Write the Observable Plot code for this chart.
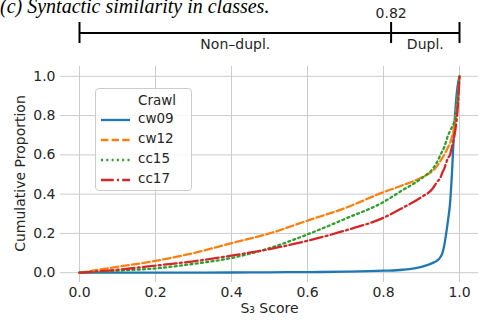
<!DOCTYPE html>
<html><head><meta charset="utf-8">
<script src="https://cdn.jsdelivr.net/npm/d3@7"></script>
<script src="https://cdn.jsdelivr.net/npm/@observablehq/plot@0.6"></script>
<style>
body{margin:0;background:#fff;}
#wrap{position:relative;width:479px;height:320px;overflow:hidden;font-family:"DejaVu Sans",sans-serif;}
#title{position:absolute;left:0;top:-4px;line-height:20px;font-family:"Liberation Serif",serif;font-style:italic;font-size:20px;white-space:nowrap;color:#000;}
#bracket,#main{position:absolute;left:0;top:0;}
#legend{position:absolute;left:95px;top:88px;width:97px;height:103px;box-sizing:border-box;border:1px solid #ccc;border-radius:4px;background:rgba(255,255,255,0.85);font-size:13.5px;color:#262626;}
#legend .t{position:absolute;left:42px;top:3px;}
#legend .row{position:absolute;left:4px;height:16px;}
#legend svg{position:absolute;left:0;top:4px;}
#legend span{position:absolute;left:38px;top:-2px;}
</style></head>
<body><div id="wrap"><div id="title">(c) Syntactic similarity in classes.</div><div id="bracket"></div><div id="main"></div><div id="legend"></div></div>
<script>
const crawls = ["cw09","cw12","cc15","cc17"];
const colors = ["#1f77b4","#ff7f0e","#2ca02c","#d62728"];
const dashes = ["none","7.4,3.2","2,3.3","12.8,3.2,2,3.2"];
const xTicks = [0,0.2,0.4,0.6,0.8,1.0];
const yTicks = [0,0.2,0.4,0.6,0.8,1.0];
const threshold = 0.82;
const bracketLabels = [{x:0.41,text:"Non\u2013dupl."},{x:0.91,text:"Dupl."}];

const sx = [0,0.1,0.2,0.3,0.4,0.5,0.6,0.7,0.8,0.85,0.9,0.93,0.94,0.95,0.955,0.96,0.965,0.97,0.975,0.98,0.985,0.99,0.995,1.0];
const cw09 = [0,0,0,0,0.001,0.002,0.003,0.005,0.01,0.015,0.03,0.05,0.06,0.08,0.1,0.14,0.2,0.27,0.35,0.5,0.7,0.85,0.95,1.0];
const cw12 = [0,0.03,0.06,0.1,0.15,0.2,0.265,0.33,0.41,0.445,0.485,0.52,0.54,0.57,0.585,0.6,0.62,0.64,0.66,0.69,0.73,0.8,0.88,1.0];
const cc15 = [0,0.01,0.022,0.045,0.075,0.125,0.195,0.275,0.36,0.42,0.48,0.53,0.56,0.6,0.62,0.64,0.67,0.7,0.72,0.74,0.76,0.8,0.87,1.0];
const cc17 = [0,0.015,0.036,0.058,0.087,0.12,0.163,0.215,0.28,0.33,0.385,0.43,0.46,0.485,0.51,0.53,0.56,0.585,0.6,0.64,0.68,0.74,0.83,1.0];
const series = [cw09,cw12,cc15,cc17];

const data = [];
crawls.forEach((c,i)=>sx.forEach((x,j)=>data.push({crawl:c,x,y:series[i][j]})));

const xScale = {domain:[-0.05,1.05]};
const font = "DejaVu Sans";
const fs = 14;

const main = Plot.plot({
  width:479,height:320,marginLeft:60,marginRight:1,marginTop:66,marginBottom:38,
  style:{fontFamily:font,fontSize:fs+"px",color:"#262626",background:"transparent"},
  x:{...xScale,label:null},
  y:{domain:[-0.05,1.05],label:null},
  marks:[
    Plot.gridX(xTicks,{stroke:"#cccccc",strokeOpacity:1,strokeWidth:1}),
    Plot.gridY(yTicks,{stroke:"#cccccc",strokeOpacity:1,strokeWidth:1}),
    Plot.axisX(xTicks,{tickSize:0,tickPadding:5,tickFormat:d3.format(".1f"),label:null,fontSize:fs}),
    Plot.axisY(yTicks,{tickSize:0,tickPadding:5,tickFormat:d3.format(".1f"),label:null,fontSize:fs}),
    ...crawls.map((c,i)=>Plot.line(data.filter(d=>d.crawl===c),{x:"x",y:"y",stroke:colors[i],strokeWidth:2.3,strokeDasharray:dashes[i],curve:"monotone-x"})),
    Plot.text(["S\u2083 Score"],{frameAnchor:"bottom",dy:30,fontSize:fs,fill:"#262626"}),
    Plot.text(["Cumulative Proportion"],{frameAnchor:"left",textAnchor:"middle",dx:-40,dy:-1,rotate:-90,fontSize:fs,fill:"#262626"})
  ]
});
document.getElementById("main").appendChild(main);

const bracket = Plot.plot({
  width:479,height:64,marginLeft:60,marginRight:1,marginTop:0,marginBottom:0,
  style:{fontFamily:font,fontSize:fs+"px",color:"#262626",background:"transparent",overflow:"visible"},
  x:{...xScale,axis:null},
  y:{domain:[0,1],range:[43,22],axis:null},
  marks:[
    Plot.ruleY([0.5],{x1:0,x2:1,stroke:"#000",strokeWidth:2}),
    Plot.ruleX([0,threshold,1],{y1:0,y2:1,stroke:"#000",strokeWidth:2}),
    Plot.text([threshold],{x:d=>d,y:1,dy:-9,text:d=>String(d),fill:"#262626",fontSize:fs}),
    Plot.text(bracketLabels,{x:"x",y:0,dy:1,text:"text",fill:"#262626",fontSize:fs})
  ]
});
document.getElementById("bracket").appendChild(bracket);

const lg = document.getElementById("legend");
lg.innerHTML = '<div class="t">Crawl</div>' + crawls.map((c,i)=>
  `<div class="row" style="top:${23+i*20}px"><svg width="32" height="8"><line x1="1" x2="30" y1="4" y2="4" stroke="${colors[i]}" stroke-width="2.3" stroke-dasharray="${dashes[i]}"/></svg><span>${c}</span></div>`).join("");
</script></body></html>
